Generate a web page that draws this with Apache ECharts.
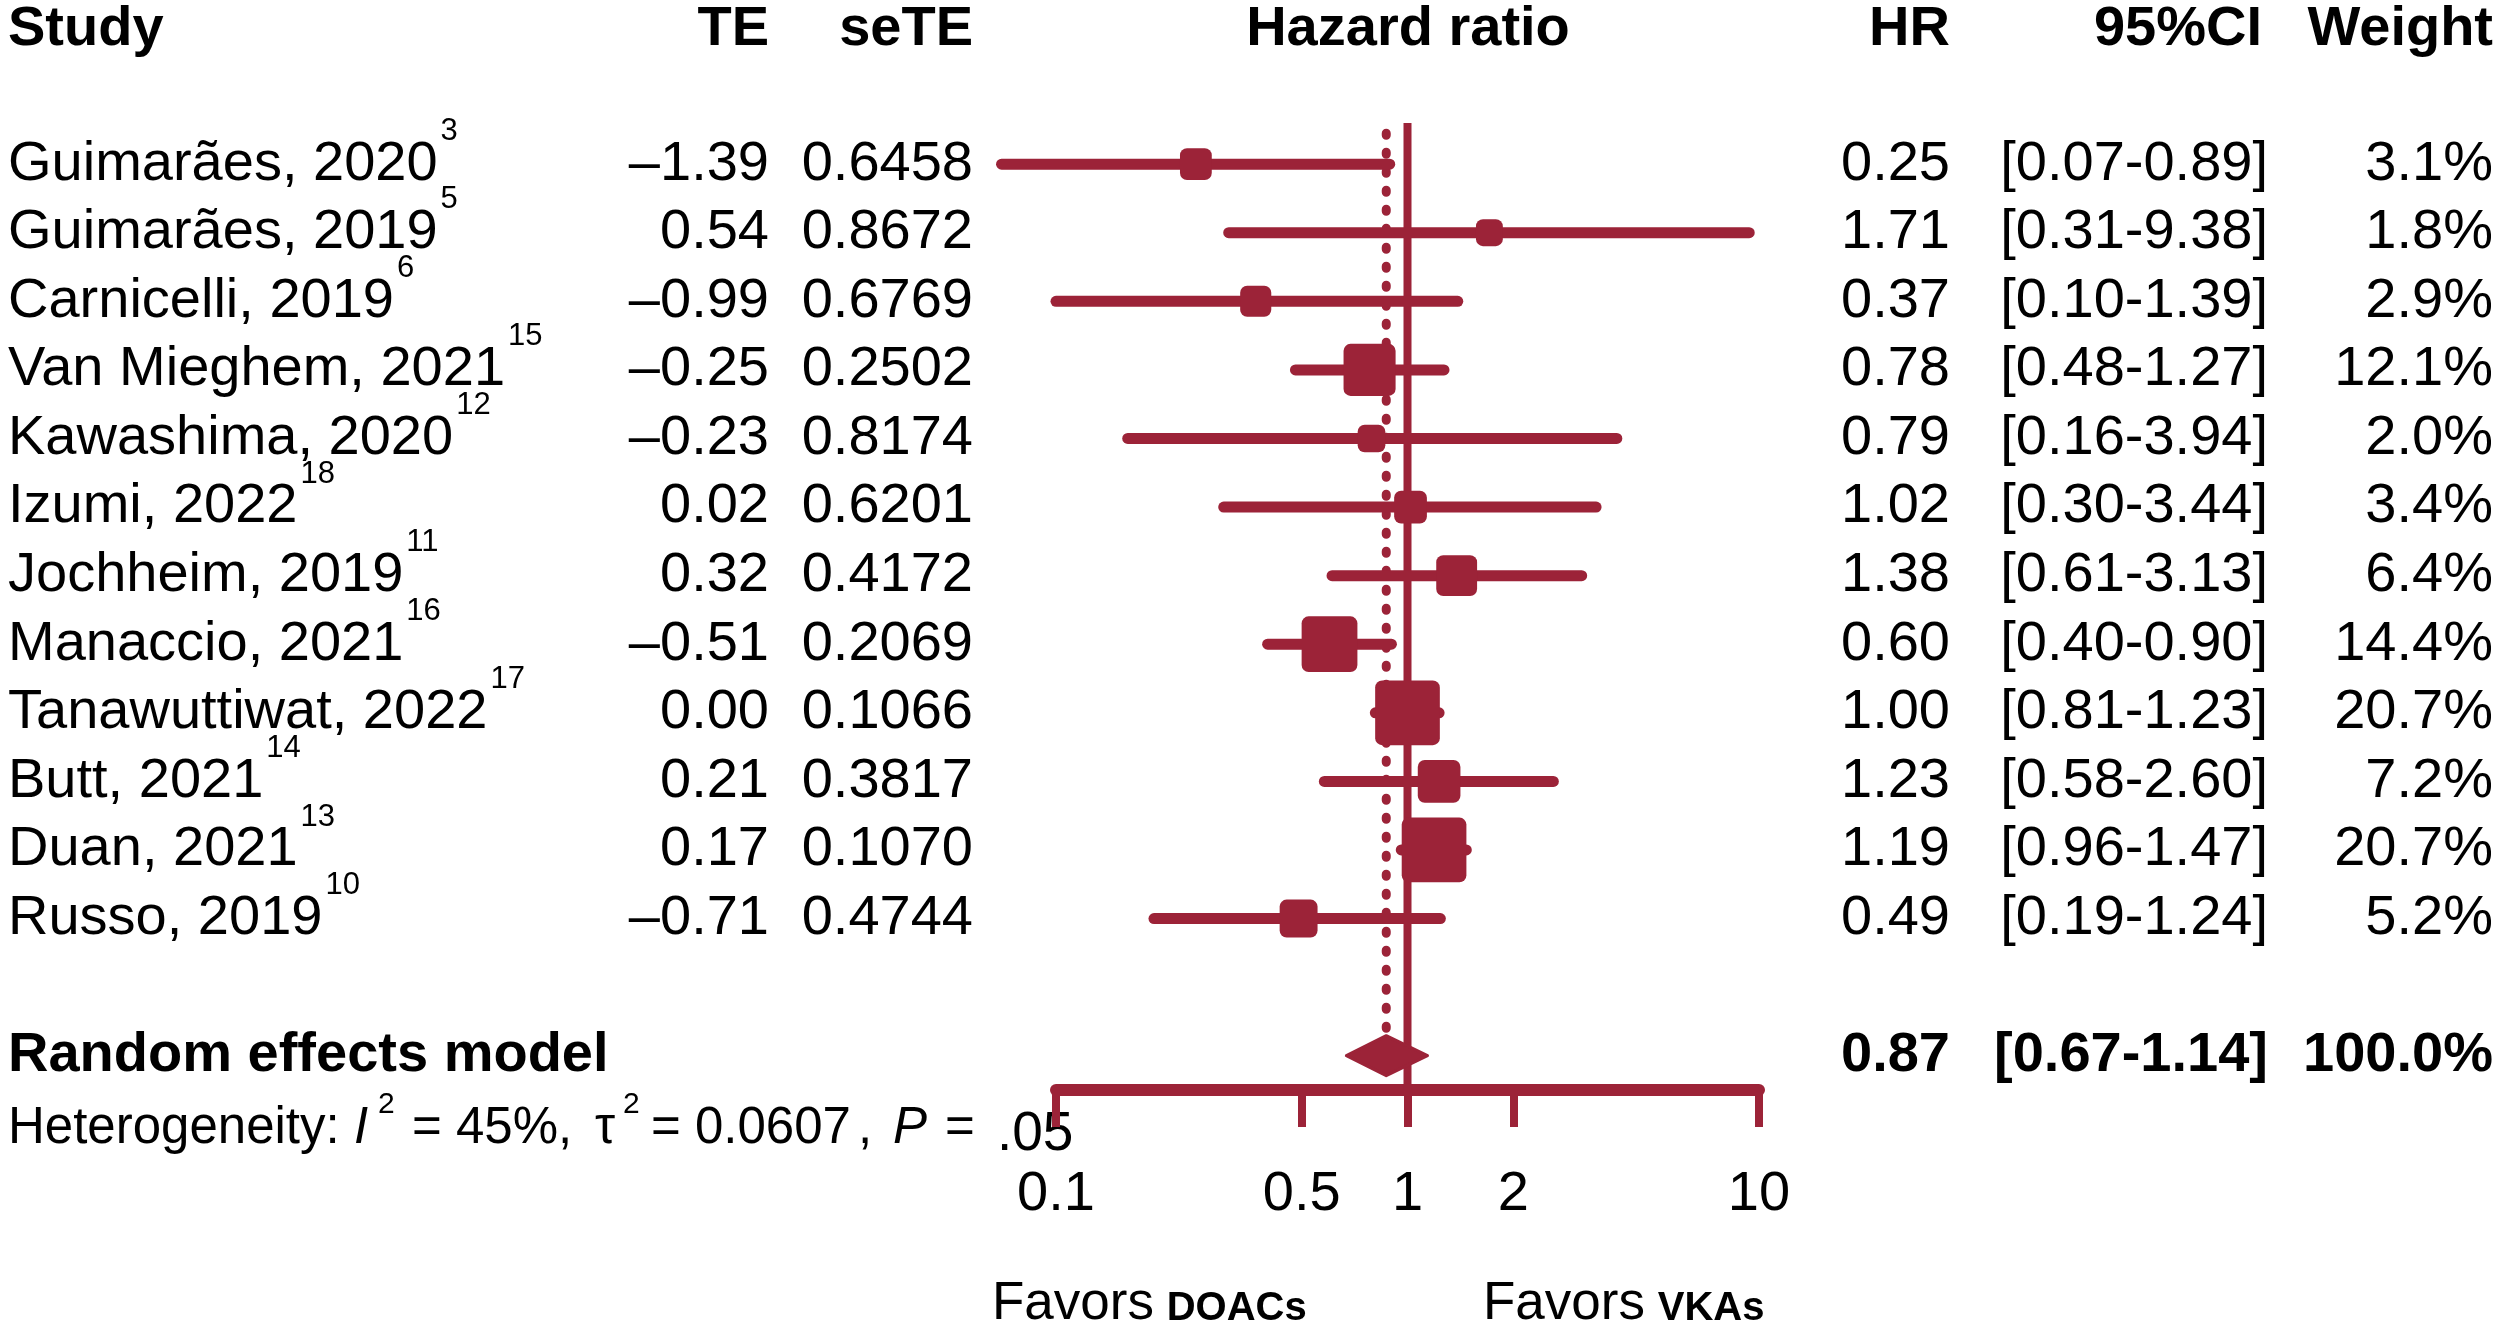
<!DOCTYPE html>
<html><head><meta charset="utf-8">
<script src="https://cdn.jsdelivr.net/npm/echarts@6/dist/echarts.min.js"></script>
<style>html,body{margin:0;padding:0;background:#fff}#main{width:2500px;height:1326px}</style>
</head><body><div id="main"></div>
<script>
// ---------------- data ----------------
const studies = ['Guimarães, 2020','Guimarães, 2019','Carnicelli, 2019','Van Mieghem, 2021','Kawashima, 2020','Izumi, 2022','Jochheim, 2019','Manaccio, 2021','Tanawuttiwat, 2022','Butt, 2021','Duan, 2021','Russo, 2019'];
const refs = ['3','5','6','15','12','18','11','16','17','14','13','10'];
const te = [-1.39, 0.54, -0.99, -0.25, -0.23, 0.02, 0.32, -0.51, 0.00, 0.21, 0.17, -0.71];
const seTE = [0.6458, 0.8672, 0.6769, 0.2502, 0.8174, 0.6201, 0.4172, 0.2069, 0.1066, 0.3817, 0.1070, 0.4744];
const hr = [0.25, 1.71, 0.37, 0.78, 0.79, 1.02, 1.38, 0.60, 1.00, 1.23, 1.19, 0.49];
const ciLower = [0.07, 0.31, 0.10, 0.48, 0.16, 0.30, 0.61, 0.40, 0.81, 0.58, 0.96, 0.19];
const ciUpper = [0.89, 9.38, 1.39, 1.27, 3.94, 3.44, 3.13, 0.90, 1.23, 2.60, 1.47, 1.24];
const weights = [3.1, 1.8, 2.9, 12.1, 2.0, 3.4, 6.4, 14.4, 20.7, 7.2, 20.7, 5.2];
const pooledLabel = 'Random effects model';
const pooledHR = 0.87, pooledLower = 0.67, pooledUpper = 1.14, pooledWeight = 100.0;
const axisTicks = [0.1, 0.5, 1, 2, 10];
const nullValue = 1;
const headers = ['Study', 'TE', 'seTE', 'Hazard ratio', 'HR', '95%CI', 'Weight'];

// ---------------- style / layout ----------------
const RED = '#9C2338';
const FONT = '"Liberation Sans", Arial, Helvetica, sans-serif';
const COL = {study: 8, te: 769, se: 973, plot: 1408, hr: 1950, ci: 2268, w: 2493};
const FS = 56;
const SUMMARY_ROW = 13;

const mctx = document.createElement('canvas').getContext('2d');
function tw(t, size, weight, style) {
  mctx.font = (style || 'normal') + ' ' + (weight || 'normal') + ' ' + size + 'px ' + FONT;
  return mctx.measureText(t).width;
}
const fmtTE = v => (v < 0 ? '\u2013' : '') + Math.abs(v).toFixed(2);
const fmtCI = (l, u) => '[' + l.toFixed(2) + '-' + u.toFixed(2) + ']';
const fmtW = w => w.toFixed(1) + '%';

function txt(t, x, y, align, extra) {
  return {type: 'text', silent: true, style: Object.assign({
    text: t, x: x, y: y, fill: '#000', fontSize: FS, fontFamily: FONT,
    align: align, verticalAlign: 'middle'
  }, extra || {})};
}

function renderStudy(params, api) {
  const i = params.dataIndex;
  const c = api.coord([hr[i], i]);
  const lo = api.coord([ciLower[i], i]);
  const up = api.coord([ciUpper[i], i]);
  const y = c[1];
  const side = 11 + 11.8 * Math.sqrt(weights[i]);
  const nameW = tw(studies[i], FS);
  return {type: 'group', children: [
    {type: 'line', silent: true, shape: {x1: lo[0], y1: y, x2: up[0], y2: y},
     style: {stroke: RED, lineWidth: 11, lineCap: 'round'}},
    {type: 'rect', silent: true, shape: {x: c[0] - side / 2, y: y - side / 2, width: side, height: side, r: 7},
     style: {fill: RED}},
    txt(studies[i], COL.study, y, 'left'),
    txt(refs[i], COL.study + nameW + 3, y - 33, 'left', {fontSize: 31}),
    txt(fmtTE(te[i]), COL.te, y, 'right'),
    txt(seTE[i].toFixed(4), COL.se, y, 'right'),
    txt(hr[i].toFixed(2), COL.hr, y, 'right'),
    txt(fmtCI(ciLower[i], ciUpper[i]), COL.ci, y, 'right'),
    txt(fmtW(weights[i]), COL.w, y, 'right')
  ]};
}

function renderPooled(params, api) {
  const c = api.coord([pooledHR, SUMMARY_ROW]);
  const lo = api.coord([pooledLower, SUMMARY_ROW]);
  const up = api.coord([pooledUpper, SUMMARY_ROW]);
  const y = c[1], h = 20;
  const b = {fontWeight: 'bold'};
  return {type: 'group', children: [
    {type: 'polygon', silent: true, shape: {points: [[lo[0], y], [c[0], y - h], [up[0], y], [c[0], y + h]]},
     style: {fill: RED, stroke: RED, lineWidth: 3, lineJoin: 'round'}},
    txt(pooledLabel, COL.study, y, 'left', b),
    txt(pooledHR.toFixed(2), COL.hr, y, 'right', b),
    txt(fmtCI(pooledLower, pooledUpper), COL.ci, y, 'right', b),
    txt(fmtW(pooledWeight), COL.w, y, 'right', b)
  ]};
}

// header + footer texts (graphic)
const HY = 30;
function gtxt(t, x, y, align, extra) {
  return {type: 'text', x: x, y: y, silent: true, style: Object.assign({
    text: t, fill: '#000', fontSize: FS, fontFamily: FONT, align: align, verticalAlign: 'middle'
  }, extra || {})};
}
const hb = {fontWeight: 'bold'};
const graphics = [
  gtxt(headers[0], COL.study, HY, 'left', hb),
  gtxt(headers[1], COL.te, HY, 'right', hb),
  gtxt(headers[2], COL.se, HY, 'right', hb),
  gtxt(headers[3], COL.plot, HY, 'center', hb),
  gtxt(headers[4], COL.hr, HY, 'right', hb),
  gtxt(headers[5], 2262, HY, 'right', hb),
  gtxt(headers[6], COL.w, HY, 'right', hb)
];
// heterogeneity line
const HETY = 1129, HFS = 51, SUPY = 1105;
const het = [
  ['Heterogeneity:', 8, HETY, {}],
  ['I', 354, HETY, {fontStyle: 'italic'}],
  ['2', 378, SUPY, {fontSize: 30}],
  ['= 45%,', 412, HETY, {}],
  ['\u03c4', 595, HETY, {}],
  ['2', 623, SUPY, {fontSize: 30}],
  ['= 0.0607', 651, HETY, {}],
  [',', 858, HETY, {}],
  ['P', 893, HETY, {fontStyle: 'italic'}],
  ['=', 945, HETY, {}],
  ['.05', 997, HETY + 6, {fontSize: 55}]
];
het.forEach(h => graphics.push(gtxt(h[0], h[1], h[2], 'left', Object.assign({fontSize: HFS}, h[3]))));
// favors labels
const FAVY = 1304;
const favFS = 53;
const favW = tw('Favors ', favFS);
graphics.push(gtxt('Favors', 992, FAVY, 'left', {fontSize: favFS}));
graphics.push(gtxt('DOACs', 990 + favW, FAVY + 5, 'left', {fontSize: 40, fontWeight: 'bold'}));
graphics.push(gtxt('Favors', 1483, FAVY, 'left', {fontSize: favFS}));
graphics.push(gtxt('VKAs', 1481 + favW, FAVY + 5, 'left', {fontSize: 40, fontWeight: 'bold'}));

const chart = echarts.init(document.getElementById('main'), null, {renderer: 'canvas'});
chart.setOption({
  animation: false,
  backgroundColor: '#fff',
  grid: {left: 1056, right: 741, top: 123, bottom: 236, containLabel: false},
  xAxis: {
    type: 'log', logBase: 10, min: 0.1, max: 10, position: 'bottom',
    axisLine: {show: true, onZero: false, lineStyle: {color: RED, width: 12}},
    axisTick: {show: true, customValues: axisTicks, length: 37, lineStyle: {color: RED, width: 8}},
    axisLabel: {show: true, customValues: axisTicks, margin: 105, verticalAlign: 'middle',
      fontSize: FS, fontFamily: FONT, color: '#000', formatter: v => String(v)},
    splitLine: {show: false}, minorTick: {show: false}
  },
  yAxis: {type: 'value', inverse: true, min: -0.6, max: 13.5, show: false},
  graphic: graphics,
  series: [
    {type: 'line', silent: true, symbol: 'none', clip: false, z: 1,
     data: [[nullValue, -0.6], [nullValue, 13.5]],
     lineStyle: {color: RED, width: 8}},
    {type: 'line', silent: true, symbol: 'none', clip: false, z: 1,
     data: [[pooledHR, -0.45], [pooledHR, 12.75]],
     lineStyle: {color: RED, width: 9, type: [2, 17], cap: 'round'}},
    {type: 'custom', silent: true, clip: false, z: 3, renderItem: renderStudy,
     encode: {x: 0, y: 1}, data: studies.map((s, i) => [hr[i], i])},
    {type: 'custom', silent: true, clip: false, z: 3, renderItem: renderPooled,
     encode: {x: 0, y: 1}, data: [[pooledHR, SUMMARY_ROW]]}
  ]
});
</script></body></html>
